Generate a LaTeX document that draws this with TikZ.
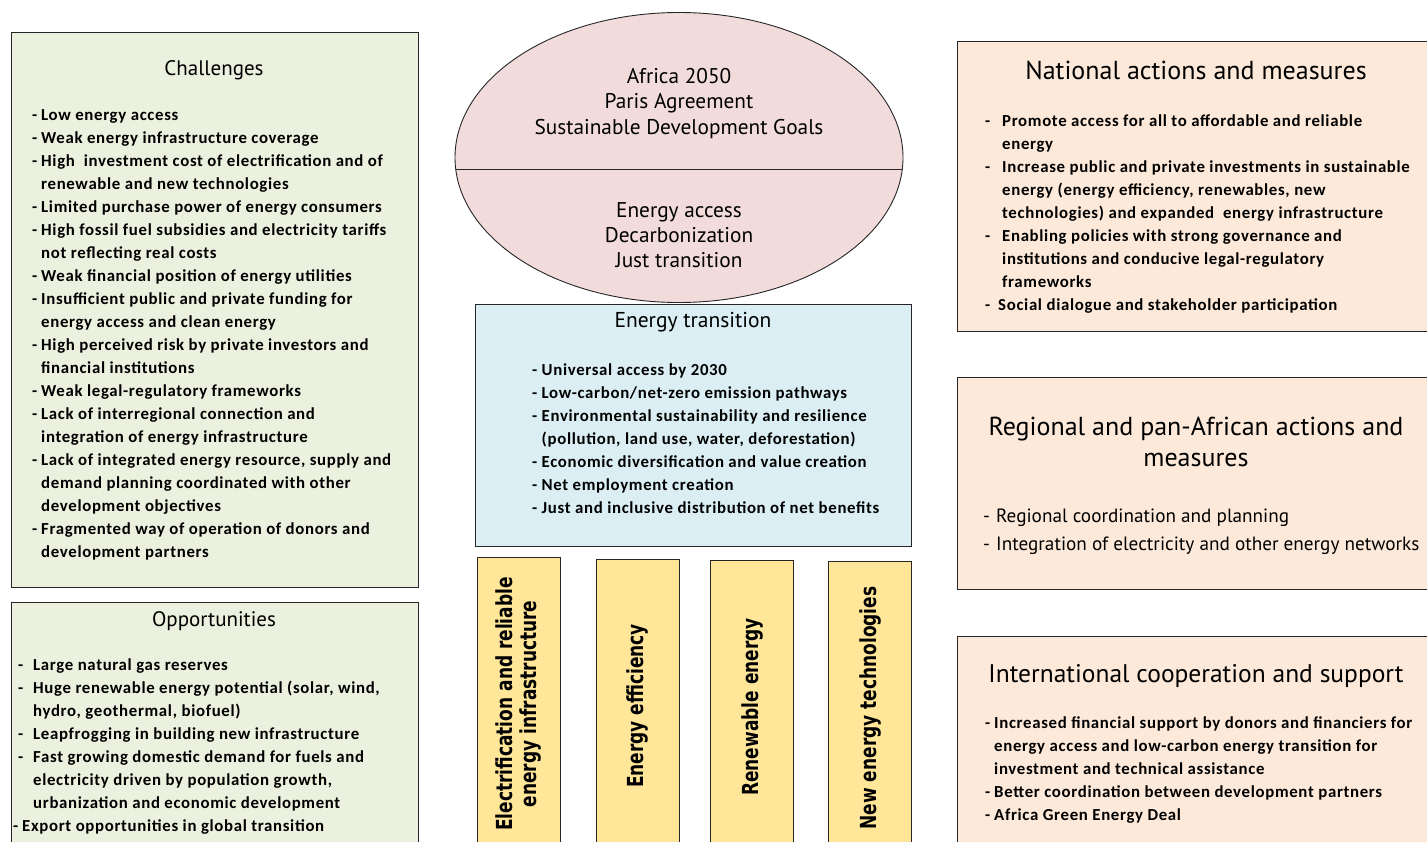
\documentclass[tikz,border=0pt]{standalone}
\usepackage{fontspec}
\usepackage{graphicx}
\setmainfont{Carlito}
\newfontfamily\bodyfont[LetterSpace=4]{Carlito}
\newfontfamily\titlefont{PT Sans}
\newfontfamily\vertfont{DejaVu Sans}
\usetikzlibrary{shapes.geometric}
\definecolor{chgreen}{HTML}{EBF1DE}
\definecolor{etblue}{HTML}{DAEEF3}
\definecolor{elpink}{HTML}{F2DCDB}
\definecolor{actpeach}{HTML}{FDE9D9}
\definecolor{pillar}{HTML}{FFE699}
\newcommand\dsh[1]{\makebox[#1][l]{-}}
\newcommand\ind[1]{\hspace*{#1}}
\tikzset{
  panel/.style={draw=black!85, line width=0.9pt, inner sep=0pt, outer sep=0pt, anchor=north west},
  ttl/.style={font=\titlefont\fontsize{#1}{#1}\selectfont, inner sep=0pt, anchor=base},
  ttl/.default=18,
  bodytext/.style={font=\bodyfont\bfseries\fontsize{16.8}{23}\selectfont, inner sep=0pt, anchor=base west},
  ybox/.style={draw=black!85, line width=0.9pt, fill=pillar, inner sep=0pt, anchor=north, minimum width=83pt, minimum height=293pt},
  vtext/.style={rotate=90, inner sep=0pt, font=\vertfont\bfseries\fontsize{17}{19.2}\selectfont}
}
\begin{document}
\begin{tikzpicture}[x=1pt,y=-1pt]
\clip (0,0) rectangle (1427,841);
\fill[white] (0,0) rectangle (1427,841);

% ---- left panels
\node[panel, fill=chgreen, minimum width=407pt, minimum height=555pt] (chal) at (11,32) {};
\node[ttl=21] (chalT) at (214,75) {Challenges};
\node[bodytext] (chalL) at (32,120.5) {\begin{tabular}[t]{@{}l@{}}
\dsh{9pt}Low energy access\\
\dsh{9pt}Weak energy infrastructure coverage\\
\dsh{9pt}High\ \ investment cost of electrification and of\\
\ind{9pt}renewable and new technologies\\
\dsh{9pt}Limited purchase power of energy consumers\\
\dsh{9pt}High fossil fuel subsidies and electricity tariffs\\
\ind{9pt}not reflecting real costs\\
\dsh{9pt}Weak financial position of energy utilities\\
\dsh{9pt}Insufficient public and private funding for\\
\ind{9pt}energy access and clean energy\\
\dsh{9pt}High perceived risk by private investors and\\
\ind{9pt}financial institutions\\
\dsh{9pt}Weak legal-regulatory frameworks\\
\dsh{9pt}Lack of interregional connection and\\
\ind{9pt}integration of energy infrastructure\\
\dsh{9pt}Lack of integrated energy resource, supply and\\
\ind{9pt}demand planning coordinated with other\\
\ind{9pt}development objectives\\
\dsh{9pt}Fragmented way of operation of donors and\\
\ind{9pt}development partners
\end{tabular}};

\node[panel, fill=chgreen, minimum width=407pt, minimum height=260pt] (opp) at (11,602) {};
\node[ttl=21] (oppT) at (214,626) {Opportunities};
\node[bodytext] (oppL) at (18,670) {\begin{tabular}[t]{@{}l@{}}
\dsh{15pt}Large natural gas reserves\\
\dsh{15pt}Huge renewable energy potential (solar, wind,\\
\ind{15pt}hydro, geothermal, biofuel)\\
\dsh{15pt}Leapfrogging in building new infrastructure\\
\dsh{15pt}Fast growing domestic demand for fuels and\\
\ind{15pt}electricity driven by population growth,\\
\ind{15pt}urbanization and economic development\\
\ind{-5pt}\dsh{9pt}Export opportunities in global transition
\end{tabular}};

% ---- centre
\node[ellipse, draw=black!85, line width=0.9pt, fill=elpink, inner sep=0pt,
      minimum width=448pt, minimum height=290pt] (goal) at (679,157.5) {};
\draw[black!85, line width=0.9pt] ([xshift=-223.2pt,yshift=-11.5pt]goal.center) -- ([xshift=223.2pt,yshift=-11.5pt]goal.center);
\node[ttl=21.3] (goalA) at (679,83) {\begin{tabular}[t]{@{}c@{}}Africa 2050\\[4.2pt]Paris Agreement\\[4.2pt]Sustainable Development Goals\end{tabular}};
\node[ttl=21.3] (goalB) at (679,217) {\begin{tabular}[t]{@{}c@{}}Energy access\\[3.7pt]Decarbonization\\[3.7pt]Just transition\end{tabular}};

\node[panel, fill=etblue, minimum width=436pt, minimum height=242pt] (et) at (475,304) {};
\node[ttl=21.5] (etT) at (693,327) {Energy transition};
\node[bodytext] (etL) at (532,375) {\begin{tabular}[t]{@{}l@{}}
\dsh{9.5pt}Universal access by 2030\\
\dsh{9.5pt}Low-carbon/net-zero emission pathways\\
\dsh{9.5pt}Environmental sustainability and resilience\\
\ind{9.5pt}(pollution, land use, water, deforestation)\\
\dsh{9.5pt}Economic diversification and value creation\\
\dsh{9.5pt}Net employment creation\\
\dsh{9.5pt}Just and inclusive distribution of net benefits
\end{tabular}};

\node[ybox] (p1) at (518.5,557) {};
\node[ybox] (p2) at (637.5,559) {};
\node[ybox] (p3) at (752,560) {};
\node[ybox] (p4) at (870,561) {};
\node[vtext] (p1t) at ([xshift=1pt]p1.center) {\scalebox{1}[1.3]{\begin{tabular}{@{}c@{}}Electrification and reliable\\energy infrastructure\end{tabular}}};
\node[vtext] (p2t) at (p2.center) {\scalebox{1}[1.3]{Energy efficiency}};
\node[vtext] (p3t) at (p3.center) {\scalebox{1}[1.3]{Renewable energy}};
\node[vtext] (p4t) at (p4.center) {\scalebox{1}[1.3]{New energy technologies}};

% ---- right panels
\node[panel, fill=actpeach, minimum width=480pt, minimum height=290pt] (nat) at (957,41) {};
\node[ttl=26] (natT) at (1196,79) {National actions and measures};
\node[bodytext] (natL) at (985,126) {\begin{tabular}[t]{@{}l@{}}
\dsh{17pt}Promote access for all to affordable and reliable\\
\ind{17pt}energy\\
\dsh{17pt}Increase public and private investments in sustainable\\
\ind{17pt}energy (energy efficiency, renewables, new\\
\ind{17pt}technologies) and expanded\ \ energy infrastructure\\
\dsh{17pt}Enabling policies with strong governance and\\
\ind{17pt}institutions and conducive legal-regulatory\\
\ind{17pt}frameworks\\
\dsh{13pt}Social dialogue and stakeholder participation
\end{tabular}};

\node[panel, fill=actpeach, minimum width=480pt, minimum height=212pt] (reg) at (957,377) {};
\node[ttl=26] (regT) at (1196,435) {\begin{tabular}[t]{@{}c@{}}Regional and pan-African actions and\\[5pt]measures\end{tabular}};
\node[inner sep=0pt, anchor=base west, font=\titlefont\fontsize{19.2}{28}\selectfont] (regL) at (983,522) {\begin{tabular}[t]{@{}l@{}}
\dsh{13pt}Regional coordination and planning\\
\dsh{13pt}Integration of electricity and other energy networks
\end{tabular}};

\node[panel, fill=actpeach, minimum width=480pt, minimum height=220pt] (intl) at (957,636) {};
\node[ttl=25.5] (intlT) at (1196,682) {International cooperation and support};
\node[bodytext] (intlL) at (985,728) {\begin{tabular}[t]{@{}l@{}}
\dsh{9pt}Increased financial support by donors and financiers for\\
\ind{9pt}energy access and low-carbon energy transition for\\
\ind{9pt}investment and technical assistance\\
\dsh{9pt}Better coordination between development partners\\
\dsh{9pt}Africa Green Energy Deal
\end{tabular}};
\end{tikzpicture}
\end{document}
